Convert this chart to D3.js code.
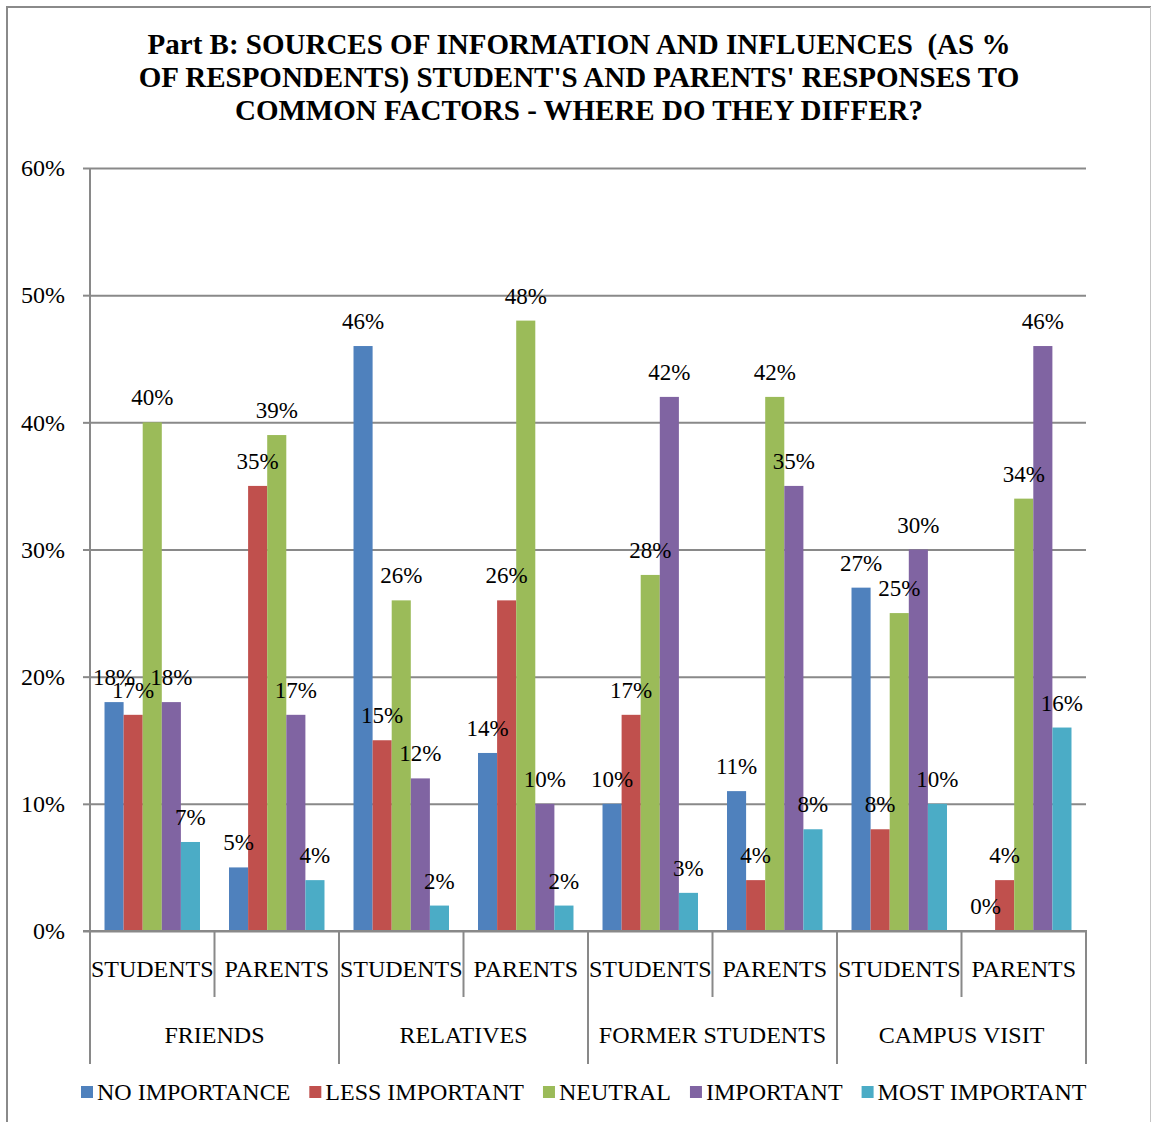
<!DOCTYPE html>
<html>
<head>
<meta charset="utf-8">
<script src="https://cdn.jsdelivr.net/npm/d3@7"></script>
<style>
  html, body { margin: 0; padding: 0; background: #fff; }
  svg text { font-family: "Liberation Serif", "Times New Roman", serif; fill: #000; }
</style>
</head>
<body>
<svg id="chart" width="1152" height="1122"></svg>
<script>
// Survey factors and respondent groups
const factors = ["FRIENDS", "RELATIVES", "FORMER STUDENTS", "CAMPUS VISIT"];
const respondents = ["STUDENTS", "PARENTS"];
const series = ["NO IMPORTANCE", "LESS IMPORTANT", "NEUTRAL", "IMPORTANT", "MOST IMPORTANT"];
const colors = ["#4F81BD", "#C0504D", "#9BBB59", "#8064A2", "#4BACC6"];

// Percent of respondents per series, in order of the 8 groups
// (FRIENDS/STUDENTS, FRIENDS/PARENTS, RELATIVES/STUDENTS, ...)
const noImportance   = [18,  5, 46, 14, 10, 11, 27,  0];
const lessImportant  = [17, 35, 15, 26, 17,  4,  8,  4];
const neutral        = [40, 39, 26, 48, 28, 42, 25, 34];
const important      = [18, 17, 12, 10, 42, 35, 30, 46];
const mostImportant  = [ 7,  4,  2,  2,  3,  8, 10, 16];

const yTicks = [0, 10, 20, 30, 40, 50, 60];
const titleLines = [
  "Part B: SOURCES OF INFORMATION AND INFLUENCES  (AS %",
  "OF RESPONDENTS) STUDENT'S AND PARENTS' RESPONSES TO",
  "COMMON FACTORS - WHERE DO THEY DIFFER?"
];

const seriesValues = [noImportance, lessImportant, neutral, important, mostImportant];
const groups = [];
factors.forEach(f => respondents.forEach(r => groups.push(f + "|" + r)));

const svg = d3.select("#chart");
const plotLeft = 90, plotRight = 1086, plotTop = 168, plotBottom = 931;
const gridColor = "#898989";

// Outer frame
svg.append("line").attr("x1", 7).attr("x2", 7).attr("y1", 7).attr("y2", 1122)
  .attr("stroke", "#8a8a8a").attr("stroke-width", 2);
svg.append("line").attr("x1", 6).attr("x2", 1151).attr("y1", 7).attr("y2", 7)
  .attr("stroke", "#8a8a8a").attr("stroke-width", 2);
svg.append("line").attr("x1", 1150.5).attr("x2", 1150.5).attr("y1", 7).attr("y2", 1122)
  .attr("stroke", "#c4c4c4").attr("stroke-width", 1);

// Title
const title = svg.append("text")
  .attr("text-anchor", "middle")
  .attr("font-weight", "bold")
  .attr("font-size", 29)
  .style("white-space", "pre");
titleLines.forEach((t, i) => {
  title.append("tspan").attr("x", 579).attr("y", 54 + i * 33).text(t);
});

// Scales
const x0 = d3.scaleBand().domain(groups).range([plotLeft, plotRight]).padding(0);
const x1 = d3.scaleBand().domain(series).range([0, x0.bandwidth()])
  .paddingInner(0).paddingOuter(0.76);
const y = d3.scaleLinear().domain([0, 60]).range([plotBottom, plotTop]);

// Gridlines with tick marks
const yAxis = d3.axisLeft(y).tickValues(yTicks).tickSize(7).tickFormat(d => d + "%");
const gy = svg.append("g").attr("transform", `translate(${plotLeft},0)`).call(yAxis);
gy.select(".domain").remove();
gy.selectAll(".tick line").attr("stroke", gridColor).attr("stroke-width", 2);
gy.selectAll(".tick text").attr("font-size", 24).attr("x", -25).attr("dy", "0.32em")
  .style("font-family", "'Liberation Serif', 'Times New Roman', serif").attr("fill", "#000");
gy.selectAll(".tick").append("line")
  .attr("x1", 0).attr("x2", plotRight - plotLeft)
  .attr("stroke", gridColor).attr("stroke-width", 2);
// Value axis line
svg.append("line").attr("x1", plotLeft).attr("x2", plotLeft)
  .attr("y1", plotTop).attr("y2", plotBottom)
  .attr("stroke", gridColor).attr("stroke-width", 2);

// Bars
const barData = [];
groups.forEach((g, gi) => {
  series.forEach((s, si) => {
    barData.push({ group: g, series: s, si, value: seriesValues[si][gi] });
  });
});

svg.append("g").selectAll("rect").data(barData).join("rect")
  .attr("x", d => x0(d.group) + x1(d.series))
  .attr("y", d => y(d.value))
  .attr("width", x1.bandwidth())
  .attr("height", d => y(0) - y(d.value))
  .attr("fill", d => colors[d.si]);

// Data labels
svg.append("g").selectAll("text").data(barData).join("text")
  .attr("x", d => x0(d.group) + x1(d.series) + x1.bandwidth() / 2)
  .attr("y", d => y(d.value) - 17)
  .attr("text-anchor", "middle")
  .attr("font-size", 23)
  .text(d => d.value + "%");

// Category axis (two levels)
const axisG = svg.append("g");
axisG.append("line").attr("x1", plotLeft - 7).attr("x2", plotRight + 1)
  .attr("y1", plotBottom).attr("y2", plotBottom)
  .attr("stroke", gridColor).attr("stroke-width", 2);
// Short ticks between respondent groups
groups.forEach((g, gi) => {
  if (gi % 2 === 1) {
    const xx = x0(g);
    axisG.append("line").attr("x1", xx).attr("x2", xx).attr("y1", plotBottom).attr("y2", 997)
      .attr("stroke", gridColor).attr("stroke-width", 2);
  }
});
// Long ticks between factors
const factorBounds = factors.map((f, i) => x0(groups[i * 2])).concat([plotRight]);
factorBounds.forEach(xx => {
  axisG.append("line").attr("x1", xx).attr("x2", xx).attr("y1", plotBottom).attr("y2", 1064)
    .attr("stroke", gridColor).attr("stroke-width", 2);
});
// Respondent labels
axisG.selectAll("text.resp").data(groups).join("text")
  .attr("class", "resp")
  .attr("x", g => x0(g) + x0.bandwidth() / 2)
  .attr("y", 977)
  .attr("text-anchor", "middle")
  .attr("font-size", 24)
  .text(g => g.split("|")[1]);
// Factor labels
axisG.selectAll("text.fac").data(factors).join("text")
  .attr("class", "fac")
  .attr("x", (f, i) => (factorBounds[i] + factorBounds[i + 1]) / 2)
  .attr("y", 1043)
  .attr("text-anchor", "middle")
  .attr("font-size", 24)
  .text(f => f);

// Legend
const legend = svg.append("g");
let lx = 81;
series.forEach((s, i) => {
  legend.append("rect").attr("x", lx).attr("y", 1086).attr("width", 12).attr("height", 12)
    .attr("fill", colors[i]);
  const t = legend.append("text").attr("x", lx + 16).attr("y", 1100)
    .attr("font-size", 24).text(s);
  lx = lx + 16 + t.node().getComputedTextLength() + 19;
});
</script>
</body>
</html>
